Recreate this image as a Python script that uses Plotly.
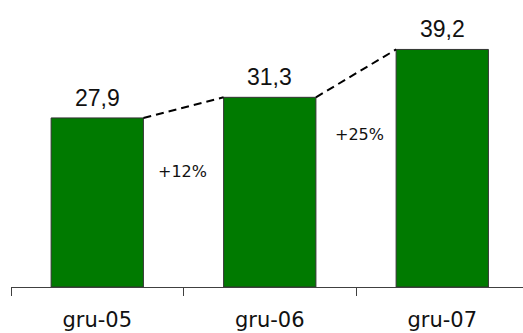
import plotly.graph_objects as go

# Year-end values per period
categories = ["gru-05", "gru-06", "gru-07"]
values = [27.9, 31.3, 39.2]

# Vertical anchor (data units) of the growth labels between bars
growth_label_y = [19.1, 25.2]
growth_label_xshift = [-1, 3]

BAR_WIDTH = 0.535
X_RANGE = [-0.5, 2.468]
Y_RANGE = [0, 47.36]

bar_color = "#007a00"
axis_color = "#404040"


def fmt_value(v):
    return f"{v:.1f}".replace(".", ",")


fig = go.Figure()

fig.add_trace(go.Bar(
    x=categories,
    y=values,
    width=BAR_WIDTH,
    marker=dict(color=bar_color, line=dict(color="#333333", width=1)),
    hoverinfo="skip",
))

# Dashed connector from the top-right corner of each bar to the top-left of the next
half = BAR_WIDTH / 2
cx, cy = [], []
for i in range(len(values) - 1):
    cx += [i + half, i + 1 - half, None]
    cy += [values[i], values[i + 1], None]

fig.add_trace(go.Scatter(
    x=cx, y=cy,
    xaxis="x2",
    mode="lines",
    line=dict(color="black", width=2, dash="8px,5px"),
    hoverinfo="skip",
    connectgaps=False,
))

annotations = []
# Value labels above bars
for i, v in enumerate(values):
    annotations.append(dict(
        x=i, y=v, xref="x2", yref="y",
        text=fmt_value(v),
        showarrow=False,
        yanchor="bottom",
        yshift=5,
        font=dict(family="Liberation Sans, Arial", size=23, color="#111111"),
    ))

# Growth percentages between consecutive bars
for i in range(len(values) - 1):
    growth = round((values[i + 1] / values[i] - 1) * 100)
    annotations.append(dict(
        x=i + 0.5, y=growth_label_y[i], xref="x2", yref="y",
        text=f"+{growth}%",
        showarrow=False,
        xshift=growth_label_xshift[i],
        font=dict(family="DejaVu Sans, Verdana", size=16, color="#111111"),
    ))

fig.update_layout(
    width=523,
    height=333,
    margin=dict(l=11, r=0, t=0, b=46),
    paper_bgcolor="white",
    plot_bgcolor="white",
    showlegend=False,
    annotations=annotations,
    xaxis=dict(
        type="category",
        categoryorder="array",
        categoryarray=categories,
        range=X_RANGE,
        tickson="boundaries",
        ticks="outside",
        ticklen=8,
        tickwidth=1,
        tickcolor=axis_color,
        ticklabelstandoff=14,
        showline=True,
        linecolor=axis_color,
        linewidth=1,
        showgrid=False,
        zeroline=False,
        tickfont=dict(family="DejaVu Sans, Verdana", size=21, color="#111111"),
        fixedrange=True,
    ),
    xaxis2=dict(
        overlaying="x",
        range=X_RANGE,
        visible=False,
        fixedrange=True,
    ),
    yaxis=dict(
        range=Y_RANGE,
        visible=False,
        showgrid=False,
        zeroline=False,
        fixedrange=True,
    ),
)

fig.write_html("out.html", config={"displayModeBar": False})
